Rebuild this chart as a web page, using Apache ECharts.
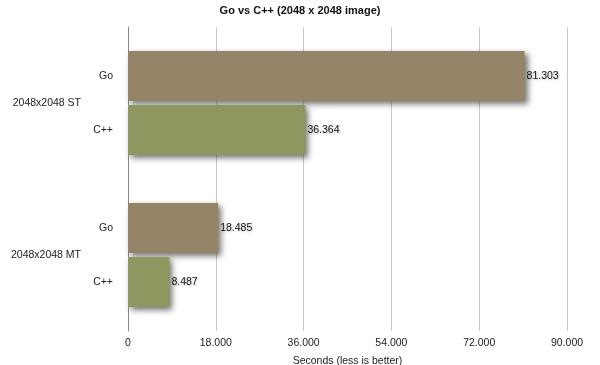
<!DOCTYPE html>
<html><head><meta charset="utf-8">
<script src="https://cdn.jsdelivr.net/npm/echarts@6/dist/echarts.min.js"></script>
<style>html,body{margin:0;padding:0;background:#fff}#c{width:600px;height:365px}</style>
</head><body><div id="c"></div>
<script>
const categories = ['2048x2048 ST', '2048x2048 MT'];
const seriesNames = ['Go', 'C++'];
const goValues = [81.303, 18.485];
const cppValues = [36.364, 8.487];
const xTicks = [0, 18, 36, 54, 72, 90];

const FONT = '"Liberation Sans", Arial, Helvetica, sans-serif';
const chart = echarts.init(document.getElementById('c'), null, {renderer: 'canvas'});
const barShadow = {shadowBlur: 6, shadowColor: 'rgba(0,0,0,0.55)', shadowOffsetX: 3, shadowOffsetY: 3};
const valueLabel = {
  show: true, position: 'right', distance: 2, fontFamily: FONT, fontSize: 10.5, color: '#111',
  textShadowColor: 'rgba(0,0,0,0.25)', textShadowBlur: 2, textShadowOffsetX: 1, textShadowOffsetY: 1,
  formatter: p => p.value.toFixed(3)
};
chart.setOption({
  animation: false,
  title: {
    text: 'Go vs C++ (2048 x 2048 image)', left: 'center', top: 0,
    textStyle: {fontFamily: FONT, fontSize: 11, fontWeight: 'bold', color: '#111'}
  },
  grid: {left: 128, right: 33, top: 27, bottom: 34, containLabel: false, outerBoundsMode: 'none'},
  xAxis: {
    type: 'value', min: xTicks[0], max: xTicks[xTicks.length - 1], interval: 18,
    name: 'Seconds (less is better)', nameLocation: 'middle', nameGap: 25,
    nameTextStyle: {fontFamily: FONT, fontSize: 10.5, color: '#222'},
    axisLine: {show: false}, axisTick: {show: false},
    axisLabel: {fontFamily: FONT, fontSize: 10.5, color: '#222', margin: 7,
      formatter: v => v === 0 ? '0' : v.toFixed(3)},
    splitLine: {show: true, lineStyle: {color: '#c8c8c8', width: 1}}
  },
  yAxis: {
    type: 'category', data: categories, inverse: true,
    axisLine: {show: true, lineStyle: {color: '#8a8a8a', width: 1}},
    axisTick: {show: false},
    axisLabel: {
      margin: 15, fontFamily: FONT, fontSize: 10.5, color: '#222',
      formatter: v => '{s|' + seriesNames[0] + '}\n{c|' + v + '}\n{s|' + seriesNames[1] + '}',
      rich: {
        s: {fontFamily: FONT, fontSize: 10.5, color: '#222', lineHeight: 27, align: 'right'},
        c: {fontFamily: FONT, fontSize: 10.5, color: '#222', lineHeight: 27, align: 'left', padding: [0, 32, 0, 0]}
      }
    }
  },
  series: [
    {name: seriesNames[0], type: 'bar', data: goValues, barWidth: 50, barGap: '8%',
     itemStyle: Object.assign({color: '#968469'}, barShadow), label: valueLabel},
    {name: seriesNames[1], type: 'bar', data: cppValues, barWidth: 50, barGap: '8%',
     itemStyle: Object.assign({color: '#8f9660'}, barShadow), label: valueLabel}
  ]
});
</script></body></html>
